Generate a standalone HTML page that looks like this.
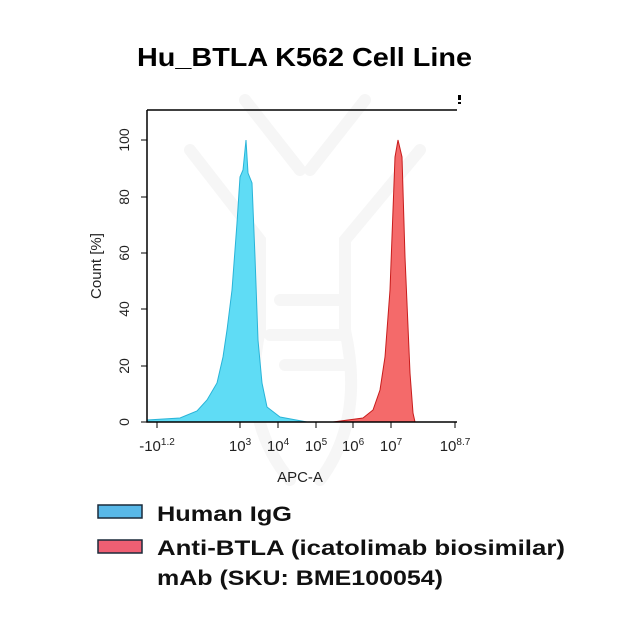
<!DOCTYPE html><html><head><style>
body{margin:0;background:#fff;width:631px;height:631px;overflow:hidden;font-family:"Liberation Sans",sans-serif}
</style></head><body>
<svg width="631" height="631" xmlns="http://www.w3.org/2000/svg">
<text x="137" y="66" textLength="335" lengthAdjust="spacingAndGlyphs" font-family="Liberation Sans" font-weight="bold" font-size="26">Hu_BTLA K562 Cell Line</text>
<g stroke="#f6f6f6" stroke-width="12" fill="none" stroke-linecap="round">
<path d="M245,100 L300,170 M365,100 L310,170 M190,150 L260,240 L260,330 Q240,420 290,480 M420,150 L345,240 L345,330 Q365,420 320,480 M280,300 L345,300 M270,335 L345,335 M285,365 L345,365"/>
</g>
<path d="M147,420 L180,418 L197,411 L207,400 L217,383 L223,357 L227,330 L232,290 L237,223 L240,177 L243,170 L246,140 L248,173 L252,183 L255,257 L258,340 L262,383 L267,407 L280,417 L307,422 L147,422Z" fill="#5fdcf5" stroke="#29b4d8" stroke-width="1"/>
<path d="M333,422 L363,418 L373,410 L380,390 L385,357 L390,290 L395,157 L398,140 L402,157 L405,257 L410,373 L413,413 L415,422Z" fill="#f46a6a" stroke="#c81c1c" stroke-width="1"/>
<path d="M147,110 L457,110 M147,110 L147,422 L457,422" stroke="#000" stroke-width="1.5" fill="none"/>
<rect x="458" y="95" width="3" height="5" fill="#000"/><rect x="458" y="102" width="3" height="2" fill="#000"/>
<g stroke="#000" stroke-width="1">
<path d="M141,422H147M141,366H147M141,309H147M141,253H147M141,197H147M141,140H147"/>
<path d="M157,422v6M240,422v6M278,422v6M316,422v6M353,422v6M391,422v6M455,422v6"/>
</g>
<g font-size="14" font-family="Liberation Sans" text-anchor="middle" fill="#222">
<text transform="translate(129,422) rotate(-90)">0</text>
<text transform="translate(129,366) rotate(-90)">20</text>
<text transform="translate(129,309) rotate(-90)">40</text>
<text transform="translate(129,253) rotate(-90)">60</text>
<text transform="translate(129,197) rotate(-90)">80</text>
<text transform="translate(129,140) rotate(-90)">100</text>
<text transform="translate(101,266) rotate(-90)" font-size="15">Count  [%]</text>
<text x="157" y="451" font-size="15">-10<tspan font-size="10" dy="-6">1.2</tspan></text>
<text x="240" y="451" font-size="15">10<tspan font-size="10" dy="-6">3</tspan></text>
<text x="278" y="451" font-size="15">10<tspan font-size="10" dy="-6">4</tspan></text>
<text x="316" y="451" font-size="15">10<tspan font-size="10" dy="-6">5</tspan></text>
<text x="353" y="451" font-size="15">10<tspan font-size="10" dy="-6">6</tspan></text>
<text x="391" y="451" font-size="15">10<tspan font-size="10" dy="-6">7</tspan></text>
<text x="455" y="451" font-size="15">10<tspan font-size="10" dy="-6">8.7</tspan></text>
<text x="300" y="482" font-size="15">APC-A</text>
</g>
<rect x="98" y="505" width="44" height="13" fill="#58b8e8" stroke="#1a2a3a" stroke-width="1.5"/>
<rect x="98" y="540" width="44" height="13" fill="#ef5f73" stroke="#1a2a3a" stroke-width="1.5"/>
<g font-family="Liberation Sans" font-weight="bold" font-size="21" fill="#111">
<text x="157" y="521" textLength="135" lengthAdjust="spacingAndGlyphs">Human IgG</text>
<text x="157" y="555" textLength="408" lengthAdjust="spacingAndGlyphs">Anti-BTLA (icatolimab biosimilar)</text>
<text x="157" y="585" textLength="286" lengthAdjust="spacingAndGlyphs">mAb (SKU: BME100054)</text>
</g>
</svg>
</body></html>
